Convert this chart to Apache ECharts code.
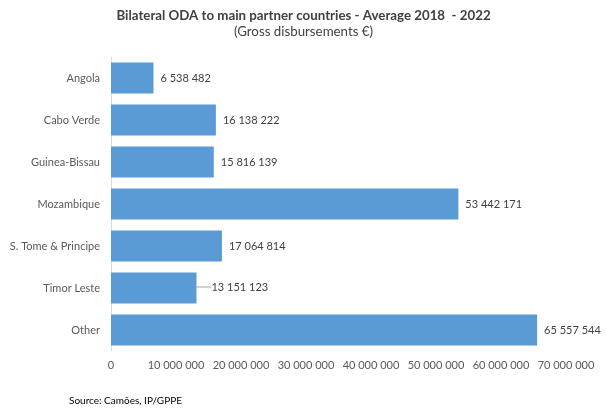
<!DOCTYPE html>
<html><head><meta charset="utf-8">
<script src="https://cdn.jsdelivr.net/npm/echarts@6/dist/echarts.min.js"></script>
<style>html,body{margin:0;padding:0;background:#fff}#c{width:607px;height:413px}</style>
</head><body><div id="c"></div>
<script>
const categories = ["Angola","Cabo Verde","Guinea-Bissau","Mozambique","S. Tome & Principe","Timor Leste","Other"];
const values = [6538482,16138222,15816139,53442171,17064814,13151123,65557544];
const titleText = "Bilateral ODA to main partner countries - Average 2018  - 2022";
const subtitleText = "(Gross disbursements €)";
const sourceText = "Source: Camões, IP/GPPE";

function fmt(v){return String(v).replace(/\B(?=(\d{3})+(?!\d))/g,' ');}
const font = 'Lato, "Open Sans", sans-serif';
const chart = echarts.init(document.getElementById('c'));
chart.setOption({
  animation:false,
  title:[
    {text:titleText,left:'center',top:4,textStyle:{fontFamily:font,fontSize:13.3,fontWeight:'bold',color:'#404040'}},
    {text:subtitleText,left:'center',top:20,textStyle:{fontFamily:font,fontSize:13.3,fontWeight:'normal',color:'#404040'}},
    {text:sourceText,left:64,top:391,textStyle:{fontFamily:font,fontSize:10,fontWeight:'normal',color:'#000'}}
  ],
  grid:{left:111,right:41,top:57,bottom:62,containLabel:false},
  xAxis:{type:'value',min:0,max:70000000,interval:10000000,
    axisLine:{show:false},axisTick:{show:false},splitLine:{show:false},
    axisLabel:{fontFamily:font,fontSize:11,color:'#595959',margin:9,formatter:v=>fmt(v)}},
  yAxis:{type:'category',data:categories,inverse:true,
    axisLine:{show:true,lineStyle:{color:'#d9d9d9'}},axisTick:{show:false},
    axisLabel:{fontFamily:font,fontSize:11,color:'#595959',margin:11}},
  series:[{type:'bar',data:values.map((v,i)=>i===5?{value:v,labelLine:{show:true,length2:0,lineStyle:{color:'#a6a6a6',width:1}}}:v),barCategoryGap:'26%',
    itemStyle:{color:'#5b9bd5'},
    labelLayout:function(p){ return p.dataIndex===5?{dx:8,dy:-1}:{}; },
    label:{show:true,position:'right',distance:7,fontFamily:font,fontSize:11,color:'#404040',formatter:p=>fmt(p.value)}}]
});
</script></body></html>
